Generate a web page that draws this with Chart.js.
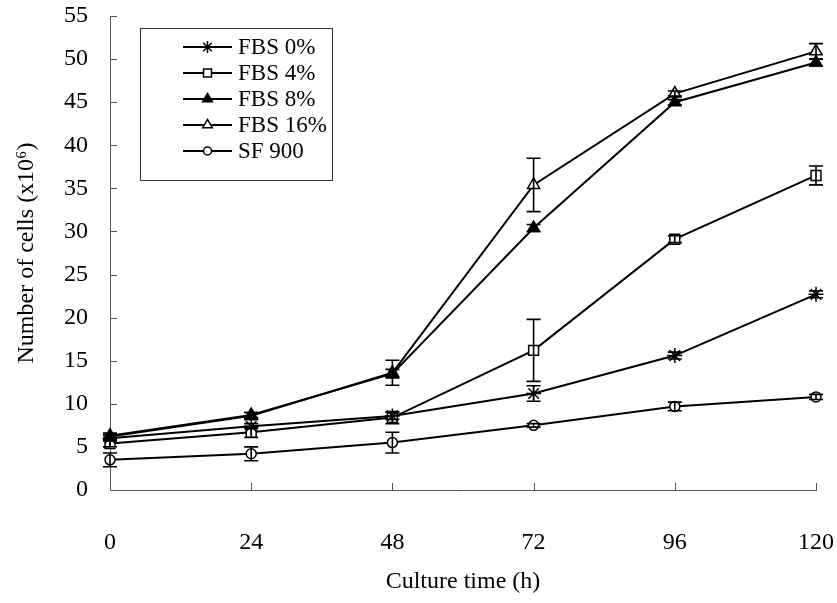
<!DOCTYPE html>
<html>
<head>
<meta charset="utf-8">
<script src="https://cdn.jsdelivr.net/npm/chart.js@4.4.1/dist/chart.umd.min.js"></script>
<style>
  html, body { margin: 0; padding: 0; background: #fff; }
  #wrap { width: 837px; height: 603px; }
</style>
</head>
<body>
<div id="wrap"><canvas id="growth-chart"></canvas></div>
<script>
  // culture time (h) and cell counts (x10^6)
  const hours = [0, 24, 48, 72, 96, 120];
  const yTicks = [0, 5, 10, 15, 20, 25, 30, 35, 40, 45, 50, 55];

  const fbs0 = [6.0, 7.4, 8.6, 11.2, 15.6, 22.7];
  const fbs0Err = [0.3, 0.3, 0.4, 0.9, 0.4, 0.4];
  const fbs4 = [5.4, 6.7, 8.4, 16.2, 29.1, 36.5];
  const fbs4Err = [0.4, 0.6, 0.7, 3.6, 0.4, 1.1];
  const fbs8 = [6.3, 8.7, 13.5, 30.4, 45.0, 49.6];
  const fbs8Err = [0.3, 0.3, 0.5, 0.4, 0.3, 0.4];
  const fbs16 = [6.2, 8.6, 13.6, 35.4, 46.0, 50.9];
  const fbs16Err = [0.3, 0.4, 1.45, 3.1, 0.3, 0.9];
  const sf900 = [3.5, 4.2, 5.5, 7.5, 9.7, 10.8];
  const sf900Err = [0.8, 0.8, 1.2, 0.2, 0.5, 0.3];

  const FONT = '"Liberation Serif", "Times New Roman", serif';

  function series(label, values, errs, style, fill, radius) {
    return {
      label,
      data: hours.map((h, i) => ({ x: h, y: values[i] })),
      errors: errs,
      borderColor: '#000',
      borderWidth: 2,
      pointStyle: style,
      pointRadius: radius,
      pointBackgroundColor: fill,
      pointBorderColor: '#000',
      pointBorderWidth: 1.5,
      tension: 0,
      clip: false,
    };
  }

  const datasets = [
    series('FBS 0%', fbs0, fbs0Err, 'star', '#000', 7.5),
    series('FBS 4%', fbs4, fbs4Err, 'rect', '#fff', 7),
    series('FBS 8%', fbs8, fbs8Err, 'triangle', '#000', 7),
    series('FBS 16%', fbs16, fbs16Err, 'triangle', '#fff', 7),
    series('SF 900', sf900, sf900Err, 'circle', '#fff', 5),
  ];

  // error bars, drawn with the chart's own scales
  const errorBars = {
    id: 'errorBars',
    afterDatasetsDraw(chart) {
      const c = chart.ctx;
      const xs = chart.scales.x, ys = chart.scales.y;
      c.save();
      c.strokeStyle = '#000';
      c.lineWidth = 1.6;
      chart.data.datasets.forEach((ds) => {
        ds.data.forEach((p, i) => {
          const e = ds.errors[i];
          if (!e) return;
          const x = xs.getPixelForValue(p.x);
          const top = ys.getPixelForValue(p.y + e);
          const bot = ys.getPixelForValue(p.y - e);
          c.beginPath();
          c.moveTo(x, top); c.lineTo(x, bot);
          c.moveTo(x - 7, top); c.lineTo(x + 7, top);
          c.moveTo(x - 7, bot); c.lineTo(x + 7, bot);
          c.stroke();
        });
      });
      c.restore();
    },
  };

  // tick marks pointing into the plot
  const innerTicks = {
    id: 'innerTicks',
    afterDraw(chart) {
      const c = chart.ctx;
      const xs = chart.scales.x, ys = chart.scales.y;
      const area = chart.chartArea;
      c.save();
      c.strokeStyle = '#555';
      c.lineWidth = 1;
      c.beginPath();
      ys.ticks.forEach((t) => {
        const y = Math.round(ys.getPixelForValue(t.value)) + 0.5;
        c.moveTo(area.left, y); c.lineTo(area.left + 7, y);
      });
      xs.ticks.forEach((t) => {
        const x = Math.round(xs.getPixelForValue(t.value)) + 0.5;
        c.moveTo(x, area.bottom); c.lineTo(x, area.bottom - 7);
      });
      c.stroke();
      c.restore();
    },
  };

  // boxed legend in the upper left of the plot
  const boxLegend = {
    id: 'boxLegend',
    afterDraw(chart) {
      const c = chart.ctx;
      c.save();
      c.strokeStyle = '#333';
      c.lineWidth = 1;
      c.strokeRect(140.5, 28.5, 192, 152);
      c.font = '23px ' + FONT;
      c.textBaseline = 'middle';
      chart.data.datasets.forEach((ds, i) => {
        const y = 47 + i * 26;
        c.strokeStyle = '#000';
        c.lineWidth = 2;
        c.beginPath();
        c.moveTo(183, y); c.lineTo(232, y);
        c.stroke();
        c.fillStyle = ds.pointBackgroundColor;
        c.lineWidth = 1.5;
        Chart.helpers.drawPoint(c, {
          pointStyle: ds.pointStyle,
          radius: ds.pointRadius * 0.8,
          rotation: 0,
          borderWidth: 1.5,
        }, 207.5, y);
        c.fillStyle = '#000';
        c.fillText(ds.label, 238, y + 1);
      });
      c.restore();
    },
  };

  new Chart(document.getElementById('growth-chart').getContext('2d'), {
    type: 'line',
    data: { datasets },
    options: {
      responsive: true,
      maintainAspectRatio: false,
      animation: false,
      events: [],
      layout: { padding: { top: 16, right: 21, left: 0, bottom: 0 } },
      plugins: { legend: { display: false }, tooltip: { enabled: false } },
      scales: {
        x: {
          type: 'linear',
          min: 0,
          max: 120,
          afterBuildTicks: (s) => { s.ticks = hours.map((v) => ({ value: v })); },
          afterFit: (s) => { s.height = 113; s.paddingLeft = 0; s.paddingRight = 0; },
          grid: { display: false, drawTicks: false },
          border: { display: true, color: '#555', width: 1 },
          ticks: { color: '#000', padding: 38, font: { family: FONT, size: 24 } },
          title: {
            display: true,
            text: 'Culture time (h)',
            color: '#000',
            font: { family: FONT, size: 24 },
            padding: { top: 0, bottom: 7 },
          },
        },
        y: {
          min: 0,
          max: 55,
          afterBuildTicks: (s) => { s.ticks = yTicks.map((v) => ({ value: v })); },
          afterFit: (s) => { s.width = 110; s.paddingTop = 0; s.paddingBottom = 0; },
          grid: { display: false, drawTicks: false },
          border: { display: true, color: '#555', width: 1 },
          ticks: { color: '#000', padding: 22, font: { family: FONT, size: 24 } },
          title: {
            display: true,
            text: 'Number of cells (x10⁶)',
            color: '#000',
            font: { family: FONT, size: 24 },
            padding: { top: 12, bottom: 0 },
          },
        },
      },
    },
    plugins: [errorBars, innerTicks, boxLegend],
  });
</script>
</body>
</html>
